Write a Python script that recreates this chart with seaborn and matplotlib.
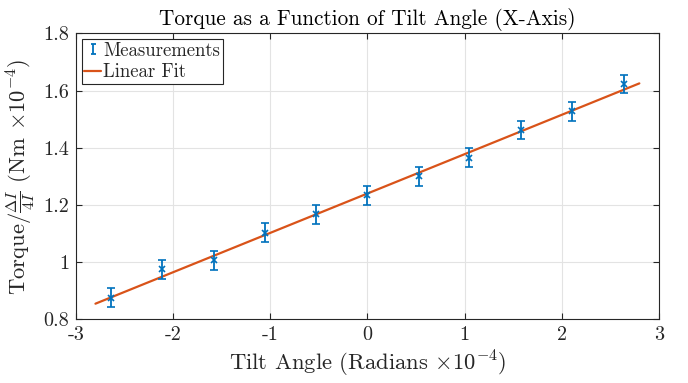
import numpy as np
import pandas as pd
import matplotlib
matplotlib.use("Agg")
import matplotlib.pyplot as plt
from matplotlib.legend_handler import HandlerErrorbar
import seaborn as sns

# Data
tilt_angle = [-2.64, -2.11, -1.58, -1.05, -0.53, 0.0, 0.53, 1.05, 1.58, 2.11, 2.64]
torque = [0.876, 0.975, 1.006, 1.103, 1.168, 1.234, 1.300, 1.365, 1.462, 1.528, 1.623]
torque_err = [0.033, 0.033, 0.033, 0.033, 0.033, 0.033, 0.033, 0.033, 0.033, 0.033, 0.033]
fit_x = [-2.8, 2.8]
fit_y = [0.855, 1.625]
x_ticks = [-3, -2, -1, 0, 1, 2, 3]
y_ticks = [0.8, 1.0, 1.2, 1.4, 1.6, 1.8]
y_ticklabels = ["0.8", "1", "1.2", "1.4", "1.6", "1.8"]

sns.set_theme(style="whitegrid")
plt.rcParams["font.family"] = ["serif"]
plt.rcParams["font.serif"] = ["cmr10", "DejaVu Serif"]
plt.rcParams["mathtext.fontset"] = "cm"
plt.rcParams["axes.unicode_minus"] = False
plt.rcParams["axes.formatter.use_mathtext"] = True

blue = "#0072BD"
orange = "#D95319"

fig = plt.figure(figsize=(6.88, 3.83), dpi=100)
ax = fig.add_axes([0.1105, 0.166, 0.847, 0.747])

meas = pd.DataFrame({"x": tilt_angle, "y": torque, "err": torque_err})
fit = pd.DataFrame({"x": fit_x, "y": fit_y})

ax.errorbar(meas["x"], meas["y"], yerr=meas["err"], fmt="x", color=blue,
            ms=4, mew=1.2, elinewidth=1.3, capsize=3, capthick=1.3,
            zorder=3)
sns.lineplot(data=fit, x="x", y="y", color=orange, lw=1.6, ax=ax,
             label="Linear Fit", zorder=2)

# legend proxy for measurements (vertical error bar only)
proxy = ax.errorbar([np.nan], [np.nan], yerr=[0.03], fmt="none", color=blue,
                    elinewidth=1.3, capsize=1.8, capthick=1.3)

ax.set_xlim(-3, 3)
ax.set_ylim(0.8, 1.8)
ax.set_xticks(x_ticks)
ax.set_xticklabels([str(t) for t in x_ticks])
ax.set_yticks(y_ticks)
ax.set_yticklabels(y_ticklabels)

ax.set_facecolor("white")
ax.grid(True, color="#e3e3e3", lw=0.8)
for s in ax.spines.values():
    s.set_color("#262626")
    s.set_linewidth(0.8)
    s.set_visible(True)
ax.tick_params(direction="in", length=4, width=0.8, colors="#262626",
               top=True, right=True, bottom=True, left=True, labelsize=14.5,
               labelcolor="#262626", pad=5)

ax.set_title("Torque as a Function of Tilt Angle (X-Axis)", fontsize=15.3,
             color="black", pad=6)
ax.set_xlabel(r"Tilt Angle (Radians $\times 10^{-4}$)", fontsize=16.3,
              color="#262626", labelpad=3)
ax.set_ylabel(r"Torque/$\frac{\Delta I}{4I}$ (Nm $\times 10^{-4}$)",
              fontsize=16.3, color="#262626", labelpad=4)

handles, labels = ax.get_legend_handles_labels()
line_handle = handles[labels.index("Linear Fit")]
leg = ax.legend(handles=[proxy, line_handle],
                labels=["Measurements", "Linear Fit"],
                handler_map={type(proxy): HandlerErrorbar(yerr_size=0.27, numpoints=1)},
                loc="upper left", fontsize=13.5, frameon=True, fancybox=False,
                edgecolor="#262626", framealpha=1, borderpad=0.15,
                handlelength=0.9, handletextpad=0.1, borderaxespad=0.3,
                labelspacing=0.2)
leg.get_frame().set_linewidth(0.8)

fig.savefig("out.png", dpi=100)
